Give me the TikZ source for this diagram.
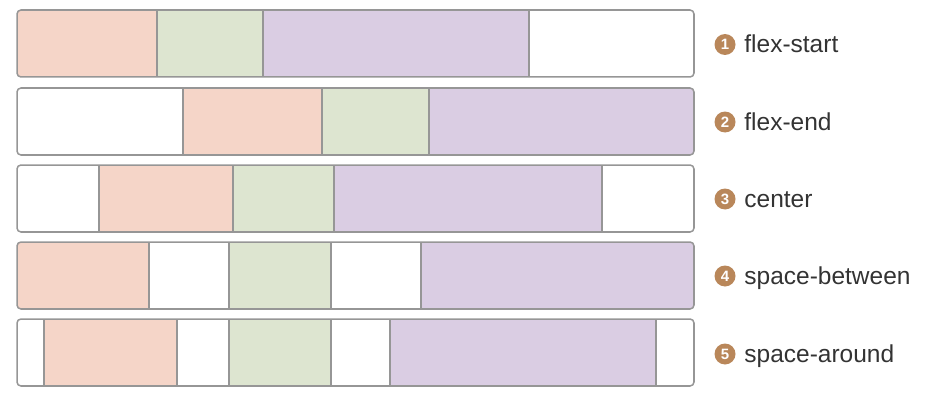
\documentclass[tikz,border=0pt]{standalone}
\usepackage{fontspec}
\setmainfont{Liberation Sans}
\usetikzlibrary{positioning}
\definecolor{flexorange}{RGB}{245,213,200}
\definecolor{flexgreen}{RGB}{221,229,208}
\definecolor{flexpurple}{RGB}{218,205,227}
\definecolor{flexgray}{RGB}{150,150,150}
\definecolor{flexbrown}{RGB}{185,135,90}
\definecolor{flextext}{RGB}{51,51,51}

\begin{document}
\begin{tikzpicture}[x=1pt,y=-1pt,
  seg/.style={draw=flexgray,line width=1.5pt,anchor=north west,minimum height=67pt,inner sep=0pt,outer sep=0pt},
  frame/.style={draw=flexgray,line width=1.5pt,rounded corners=4pt},
  num/.style={circle,fill=flexbrown,text=white,font=\bfseries\fontsize{15}{15}\selectfont,minimum size=21pt,inner sep=0pt},
  lbl/.style={text=flextext,font=\fontsize{24.5}{24.5}\selectfont,inner sep=0pt,anchor=base west}]
\useasboundingbox (0,0) rectangle (940,404);
% flex-start
\begin{scope}
\clip[rounded corners=4pt] (17,10) rectangle (694,77);
\foreach \a/\b/\c [count=\i] in {17/157/flexorange,157/263/flexgreen,263/529/flexpurple,529/694/white}
  {\node[seg,fill=\c,minimum width={\b-\a}] (r1\i) at (\a,10) {};}
\end{scope}
\draw[frame] (17,10) rectangle (694,77);
\node[num] (n1) at (725,44.5) {1};
\node[lbl] (t1) at ([xshift=8.5pt,yshift=-8pt]n1.east) {flex-start};
% flex-end
\begin{scope}
\clip[rounded corners=4pt] (17,88) rectangle (694,155);
\foreach \a/\b/\c [count=\i] in {17/183/white,183/322/flexorange,322/429/flexgreen,429/694/flexpurple}
  {\node[seg,fill=\c,minimum width={\b-\a}] (r2\i) at (\a,88) {};}
\end{scope}
\draw[frame] (17,88) rectangle (694,155);
\node[num] (n2) at (725,122) {2};
\node[lbl] (t2) at ([xshift=8.5pt,yshift=-8pt]n2.east) {flex-end};
% center
\begin{scope}
\clip[rounded corners=4pt] (17,165) rectangle (694,232);
\foreach \a/\b/\c [count=\i] in {17/99/white,99/233/flexorange,233/334/flexgreen,334/602/flexpurple,602/694/white}
  {\node[seg,fill=\c,minimum width={\b-\a}] (r3\i) at (\a,165) {};}
\end{scope}
\draw[frame] (17,165) rectangle (694,232);
\node[num] (n3) at (725,199) {3};
\node[lbl] (t3) at ([xshift=8.5pt,yshift=-8pt]n3.east) {center};
% space-between
\begin{scope}
\clip[rounded corners=4pt] (17,242) rectangle (694,309);
\foreach \a/\b/\c [count=\i] in {17/149/flexorange,149/229/white,229/331/flexgreen,331/421/white,421/694/flexpurple}
  {\node[seg,fill=\c,minimum width={\b-\a}] (r4\i) at (\a,242) {};}
\end{scope}
\draw[frame] (17,242) rectangle (694,309);
\node[num] (n4) at (725,276) {4};
\node[lbl] (t4) at ([xshift=8.5pt,yshift=-8pt]n4.east) {space-between};
% space-around
\begin{scope}
\clip[rounded corners=4pt] (17,319) rectangle (694,386);
\foreach \a/\b/\c [count=\i] in {17/44/white,44/177/flexorange,177/229/white,229/331/flexgreen,331/390/white,390/656/flexpurple,656/694/white}
  {\node[seg,fill=\c,minimum width={\b-\a}] (r5\i) at (\a,319) {};}
\end{scope}
\draw[frame] (17,319) rectangle (694,386);
\node[num] (n5) at (725,354) {5};
\node[lbl] (t5) at ([xshift=8.5pt,yshift=-8pt]n5.east) {space-around};
\end{tikzpicture}
\end{document}
